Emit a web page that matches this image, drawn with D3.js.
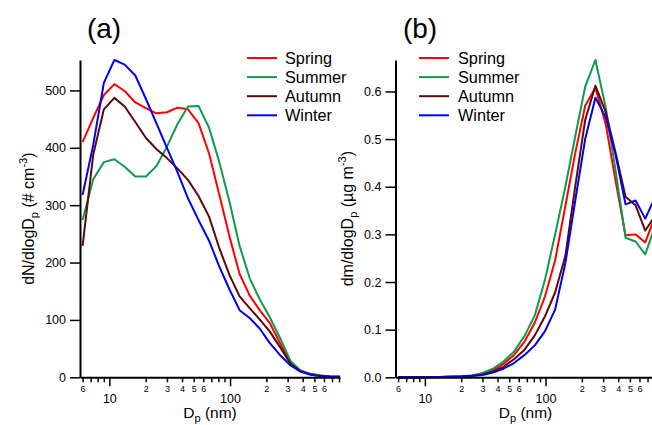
<!DOCTYPE html>
<html>
<head>
<meta charset="utf-8">
<script src="https://cdn.jsdelivr.net/npm/d3@7"></script>
<style>
  body { margin: 0; background: #fff; }
  svg { display: block; font-family: "Liberation Sans", Arial, sans-serif; }
</style>
</head>
<body>
<svg id="chart" width="652" height="425"></svg>
<script>
// Particle diameter bins (nm)
const diameters = [6.0, 7.35, 9.0, 11.0, 13.4, 16.4, 20.1, 24.5, 30.0, 36.6, 44.8, 54.8, 67.0,
                   81.5, 99, 120, 146, 176, 213, 259, 316, 382, 460, 557, 670, 815];

const seasons = ["Spring", "Summer", "Autumn", "Winter"];
const seasonColors = ["#ff0000", "#0f9a4c", "#5e0808", "#0000ee"];

// Number size distributions, dN/dlogDp (# cm^-3)
const springNumber = [410, 452, 492, 511, 499, 479, 469, 460, 462, 470, 467, 443, 390,
                      318, 245, 180, 142, 117, 95, 60, 26, 12, 6, 3, 1.5, 1];
const summerNumber = [274, 345, 375, 380, 367, 350, 350, 368, 402, 441, 472, 473, 435,
                      375, 306, 229, 172, 136, 105, 69, 29, 12, 6, 3, 1.5, 1];
const autumnNumber = [229, 388, 467, 487, 472, 445, 417, 398, 382, 364, 344, 316, 280,
                      225, 178, 141, 120, 101, 80, 53, 24, 11, 5, 2.5, 1.5, 1];
const winterNumber = [318, 405, 513, 553, 545, 526, 485, 443, 400, 358, 312, 274, 238,
                      193, 153, 117, 103, 85, 60, 39, 21, 10, 5, 2, 1, 1];

// Mass size distributions, dm/dlogDp (ug m^-3)
const springMass = [0, 0.0001, 0.0002, 0.0004, 0.0007, 0.0012, 0.002, 0.0035, 0.007, 0.014, 0.028, 0.047, 0.075,
                    0.115, 0.17, 0.245, 0.36, 0.47, 0.57, 0.608, 0.53, 0.41, 0.298, 0.30, 0.283, 0.34];
const summerMass = [0, 0.0001, 0.0002, 0.0004, 0.0007, 0.0012, 0.002, 0.004, 0.009, 0.018, 0.033, 0.054, 0.087,
                    0.13, 0.205, 0.30, 0.40, 0.505, 0.61, 0.666, 0.565, 0.431, 0.293, 0.285, 0.258, 0.32];
const autumnMass = [0, 0.0001, 0.0002, 0.0003, 0.0006, 0.001, 0.0017, 0.003, 0.006, 0.012, 0.022, 0.038, 0.058,
                    0.088, 0.128, 0.178, 0.255, 0.40, 0.54, 0.612, 0.556, 0.47, 0.379, 0.361, 0.308, 0.34];
const winterMass = [0, 0.0001, 0.0002, 0.0003, 0.0005, 0.0009, 0.0015, 0.0027, 0.005, 0.01, 0.018, 0.03, 0.047,
                    0.067, 0.097, 0.142, 0.24, 0.37, 0.50, 0.587, 0.545, 0.465, 0.363, 0.371, 0.333, 0.38];

// Axis ticks
const majorTicks = [10, 100];
const minorTicks = [6, 7, 8, 9, 20, 30, 40, 50, 60, 70, 80, 90, 200, 300, 400, 500, 600, 700, 800];
const labelledMinor = [6, 20, 30, 40, 50, 60, 200, 300, 400, 500, 600];
const numberTicks = [0, 100, 200, 300, 400, 500];
const massTicks = [0, 0.1, 0.2, 0.3, 0.4, 0.5, 0.6];

const svg = d3.select("#chart");
const FONT_TICK = 12.5;
const FONT_TITLE = 15.5;

function drawPanel(cfg) {
  const g = svg.append("g");
  const x = d3.scaleLog().domain([5.71, 815]).range([cfg.left, cfg.left + 260]);
  const yMax = d3.max(cfg.series.flat());
  const y = d3.scaleLinear().domain([0, yMax]).range([377.3, 60]);

  // data lines
  const line = d3.line()
    .x((d, i) => x(diameters[i]))
    .y(d => y(d));
  cfg.series.forEach((vals, k) => {
    g.append("path")
      .datum(vals)
      .attr("d", line)
      .attr("fill", "none")
      .attr("stroke", seasonColors[k])
      .attr("stroke-width", 2)
      .attr("stroke-linejoin", "round");
  });

  // y axis
  const yAxis = g.append("g")
    .attr("transform", `translate(${cfg.left},0)`)
    .call(d3.axisLeft(y).tickValues(cfg.yTicks).tickFormat(cfg.yFormat)
      .tickSize(10).tickSizeOuter(0).tickPadding(4));
  yAxis.select(".domain").attr("stroke-width", 2);
  yAxis.selectAll(".tick line").attr("stroke-width", 1.5);
  yAxis.selectAll("text").attr("font-size", FONT_TICK).attr("fill", "#000");

  // x axis: minor ticks with single-digit labels
  const xMinor = g.append("g")
    .attr("transform", "translate(0,377.3)")
    .call(d3.axisBottom(x).tickValues(minorTicks)
      .tickFormat(d => labelledMinor.includes(d) ? String(d).charAt(0) : "")
      .tickSize(5).tickSizeOuter(0).tickPadding(3.5));
  xMinor.select(".domain").attr("stroke-width", 2);
  xMinor.selectAll(".tick line").attr("stroke-width", 1.5);
  xMinor.selectAll("text").attr("font-size", 9).attr("fill", "#000");

  // x axis: decade ticks
  const xMajor = g.append("g")
    .attr("transform", "translate(0,377.3)")
    .call(d3.axisBottom(x).tickValues(majorTicks).tickFormat(d3.format("d"))
      .tickSize(9).tickSizeOuter(0).tickPadding(7.5));
  xMajor.select(".domain").remove();
  xMajor.selectAll(".tick line").attr("stroke-width", 1.5);
  xMajor.selectAll("text").attr("font-size", FONT_TICK).attr("fill", "#000");

  // x title: Dp (nm)
  const xt = g.append("text")
    .attr("x", cfg.left + 130).attr("y", 418)
    .attr("text-anchor", "middle").attr("font-size", FONT_TITLE);
  xt.append("tspan").text("D");
  xt.append("tspan").attr("font-size", 11).attr("dy", 4).text("p");
  xt.append("tspan").attr("dy", -4).text(" (nm)");

  // y title
  const yt = g.append("text")
    .attr("transform", `translate(${cfg.yTitleX},${(377.3 + 60) / 2}) rotate(-90)`)
    .attr("text-anchor", "middle").attr("font-size", 16);
  yt.append("tspan").text(cfg.yTitle[0]);
  yt.append("tspan").attr("font-size", 11).attr("dy", 4).text("p");
  yt.append("tspan").attr("dy", -4).text(cfg.yTitle[1]);
  yt.append("tspan").attr("font-size", 11).attr("dy", -7).text("-3");
  yt.append("tspan").attr("dy", 7).text(")");

  // panel tag
  g.append("text")
    .attr("x", cfg.tagX).attr("y", 37.5)
    .attr("text-anchor", "middle").attr("font-size", 28)
    .text(cfg.tag);

  // legend
  seasons.forEach((name, k) => {
    const ly = 58 + k * 19.1;
    g.append("line")
      .attr("x1", cfg.legendX).attr("x2", cfg.legendX + 30)
      .attr("y1", ly).attr("y2", ly)
      .attr("stroke", seasonColors[k]).attr("stroke-width", 2);
    g.append("text")
      .attr("x", cfg.legendX + cfg.legendGap).attr("y", ly + 5.8)
      .attr("font-size", 16.3)
      .text(name);
  });
}

drawPanel({
  left: 80,
  series: [springNumber, summerNumber, autumnNumber, winterNumber],
  yTicks: numberTicks,
  yFormat: d3.format("d"),
  yTitle: ["dN/dlogD", " (# cm"],
  yTitleX: 33.5,
  tag: "(a)",
  tagX: 104,
  legendX: 247,
  legendGap: 38
});

drawPanel({
  left: 395.5,
  series: [springMass, summerMass, autumnMass, winterMass],
  yTicks: massTicks,
  yFormat: d3.format(".1f"),
  yTitle: ["dm/dlogD", " (\u00b5g m"],
  yTitleX: 353.3,
  tag: "(b)",
  tagX: 420,
  legendX: 419,
  legendGap: 39
});
</script>
</body>
</html>
